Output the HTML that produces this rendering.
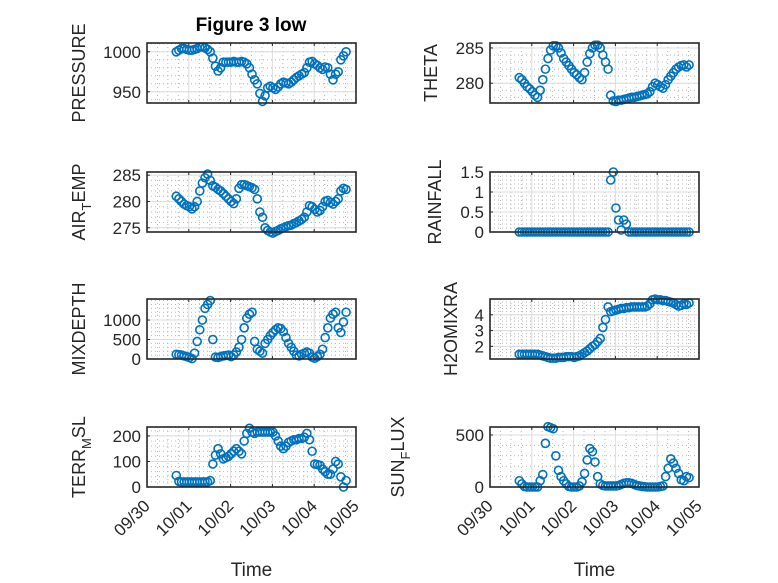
<!DOCTYPE html>
<html><head><meta charset="utf-8"><style>
html,body{margin:0;padding:0;background:#fff;}
svg{display:block;font-family:"Liberation Sans",sans-serif;}
</style></head><body>
<svg id="fig" width="778" height="583" viewBox="0 0 778 583">
<rect width="778" height="583" fill="#fff"/>
<text x="251" y="31" text-anchor="middle" font-weight="bold" font-size="19" fill="#000">Figure 3 low</text>
</svg>
<script>
// time = days since 09/30 00:00, sampled every 1.5 h starting 0.70
const tStart = 0.70;
const tStep = 1/16;
const xTickLabels = ["09/30","10/01","10/02","10/03","10/04","10/05"];
const pressure = [1000,1002,1004,1004,1003,1002,1002,1003,1004,1006,1006,1005,1003,1000,992,982,976,980,987,987,987,987,988,987,987,988,987,985,980,972,965,960,948,938,945,955,957,955,953,956,960,962,961,960,962,965,968,970,972,974,980,987,988,985,983,980,978,981,980,972,965,972,975,990,995,1000];
const airTemp = [281,280.5,280,279.5,279.2,279,278.6,279,280,282,283.5,284.5,285.2,284,283,282.7,282.3,282,281.5,281,280.5,280,279.6,280.5,282.5,283.2,283.2,283,282.8,282.6,282.3,280.5,278,277,275,274.5,274.2,274,274.3,274.5,274.8,275,275.2,275.4,275.5,275.8,276,276.3,276.6,277,278,279.2,279,278.5,278,278.3,279,280,280.2,279.8,279.5,280,280.5,282,282.5,282.3];
const mixDepth = [120,110,100,80,60,40,10,150,450,750,1000,1300,1400,1500,500,50,40,60,80,90,100,60,100,180,300,500,800,1050,1150,1200,450,250,200,150,400,500,600,680,750,800,780,700,550,400,300,200,100,80,120,150,180,150,50,20,60,120,250,550,800,1050,1150,1200,800,680,950,1200];
const terrMsl = [45,22,20,20,20,20,20,20,20,20,20,20,20,25,90,125,150,130,110,115,120,130,140,150,140,130,180,210,230,215,210,215,215,215,215,215,215,215,200,180,160,150,160,175,180,185,185,190,190,195,210,185,140,90,88,85,70,60,50,50,70,100,90,40,0,25];
const theta = [280.8,280.5,280,279.5,279.2,278.8,278.3,278,279,280.5,282,283.5,284.7,285.3,285.3,285,284.3,283.5,283,282.5,282,281.5,281.2,280.8,280.5,281.5,283,284.2,285,285.4,285.4,285,284,283,282,278.3,277.5,277.4,277.6,277.6,277.7,277.8,277.9,278,278,278.1,278.2,278.3,278.4,278.5,278.8,279.5,280,279.8,279.5,279.3,279.8,280.5,281,281.5,282,282.3,282.5,282.6,282.3,282.6];
const rainfall = [0,0,0,0,0,0,0,0,0,0,0,0,0,0,0,0,0,0,0,0,0,0,0,0,0,0,0,0,0,0,0,0,0,0,0,1.3,1.5,0.6,0.3,0.05,0.3,0.2,0,0,0,0,0,0,0,0,0,0,0,0,0,0,0,0,0,0,0,0,0,0,0,0];
const h2oMix = [1.5,1.5,1.5,1.5,1.5,1.5,1.5,1.5,1.45,1.4,1.35,1.3,1.25,1.25,1.25,1.3,1.3,1.3,1.35,1.35,1.35,1.3,1.35,1.4,1.5,1.6,1.7,1.85,2.0,2.1,2.3,2.5,3.2,3.7,4.5,4.2,4.25,4.3,4.35,4.4,4.4,4.45,4.45,4.5,4.5,4.5,4.5,4.5,4.5,4.55,4.7,4.95,5.0,4.95,4.95,4.9,4.9,4.85,4.8,4.75,4.65,4.55,4.6,4.7,4.65,4.75];
const sunFlux = [60,30,5,0,0,0,0,0,60,120,420,580,570,560,300,160,100,60,30,5,0,0,0,10,50,130,260,370,340,240,100,30,15,10,10,10,10,10,15,25,35,40,40,35,25,15,10,5,3,0,0,0,0,0,5,10,100,180,270,230,180,130,70,60,100,90];

const ticksPressure=[950,1000], ticksAir=[275,280,285], ticksMix=[0,500,1000], ticksTerr=[0,100,200];
const ticksTheta=[280,285], ticksRain=[0,0.5,1,1.5], ticksH2o=[2,3,4], ticksSun=[0,500];

const NS="http://www.w3.org/2000/svg";
const svg=document.getElementById('fig');
function el(tag,attrs,parent){const e=document.createElementNS(NS,tag);for(const k in attrs)e.setAttribute(k,attrs[k]);(parent||svg).appendChild(e);return e;}

const panels=[
 {name:'pressure',data:pressure,ticks:ticksPressure,lim:[936,1011],x:147,y:43,label:'PRESSURE',lx:78},
 {name:'theta',data:theta,ticks:ticksTheta,lim:[277.2,285.7],x:490,y:43,label:'THETA',lx:430},
 {name:'air-temp',data:airTemp,ticks:ticksAir,lim:[274.2,285.6],x:147,y:172,label:['AIR','T','EMP'],lx:78},
 {name:'rainfall',data:rainfall,ticks:ticksRain,lim:[0,1.5],x:490,y:172,label:'RAINFALL',lx:434},
 {name:'mixdepth',data:mixDepth,ticks:ticksMix,lim:[0,1540],x:147,y:299,label:'MIXDEPTH',lx:78},
 {name:'h2omixra',data:h2oMix,ticks:ticksH2o,lim:[1.2,5.0],x:490,y:299,label:'H2OMIXRA',lx:450},
 {name:'terr-msl',data:terrMsl,ticks:ticksTerr,lim:[0,235],x:147,y:427,label:['TERR','M','SL'],lx:78,bottom:true},
 {name:'sun-flux',data:sunFlux,ticks:ticksSun,lim:[0,577],x:490,y:427,label:['SUN','F','LUX'],lx:397,bottom:true},
];
const W=209,H=60;
panels.forEach(p=>{
  const g=el('g',{});
  
  
  const xs=d=>p.x+d/5*W;
  const ys=v=>p.y+H-(v-p.lim[0])/(p.lim[1]-p.lim[0])*H;
  for(let d=0;d<5;d+=0.25){ if(Math.abs(d-Math.round(d))<1e-6) continue;
    const l=el('line',{x1:xs(d),x2:xs(d),y1:p.y,y2:p.y+H,stroke:'#b8b8b8','stroke-width':1,'stroke-dasharray':'1 3'},g);
    
    
  }
  const step=p.ticks[1]-p.ticks[0];
  for(let v=p.ticks[0]-step;v<=p.lim[1]+1e-9;v+=step/5){
    if(v<p.lim[0]-1e-9) continue;
    const l=el('line',{x1:p.x,x2:p.x+W,y1:ys(v),y2:ys(v),stroke:'#b8b8b8','stroke-width':1,'stroke-dasharray':'1 3'},g);
    
    
  }
  for(let d=1;d<5;d++){
    const l=el('line',{x1:xs(d),x2:xs(d),y1:p.y,y2:p.y+H,stroke:'#dcdcdc','stroke-width':1},g);
    
    
  }
  p.ticks.forEach(v=>{
    const l=el('line',{x1:p.x,x2:p.x+W,y1:ys(v),y2:ys(v),stroke:'#dcdcdc','stroke-width':1},g);
    
    
    const tk=el('line',{x1:p.x,x2:p.x+3,y1:ys(v),y2:ys(v),stroke:'#262626','stroke-width':1},g);
    
    
    const t=el('text',{x:p.x-6,y:ys(v)+6,'text-anchor':'end','font-size':17,fill:'#262626'},g);
    t.textContent=String(v);
    
    
  });
  for(let d=0;d<=5;d++){
    const tk=el('line',{x1:xs(d),x2:xs(d),y1:p.y,y2:p.y+3,stroke:'#262626','stroke-width':1},g);
    
    
    const tk2=el('line',{x1:xs(d),x2:xs(d),y1:p.y+H,y2:p.y+H-3,stroke:'#262626','stroke-width':1},g);
    
    
    if(p.bottom){
      const tx=xs(d)+4, ty=p.y+H+20;
      const t=el('text',{x:tx,y:ty,'text-anchor':'end','font-size':17,fill:'#262626',transform:`rotate(-45 ${tx} ${ty})`},g);
      t.textContent=xTickLabels[d];
      
      
    }
  }
  p.data.forEach((v,i)=>{
    const c=el('circle',{cx:xs(tStart+i*tStep),cy:ys(v),r:4,fill:'none',stroke:'#0072bd','stroke-width':1.6},g);
    
    
  });
  const box=el('rect',{x:p.x,y:p.y,width:W,height:H,fill:'none',stroke:'#262626','stroke-width':1.6},g);
  
  
  const cy=p.y+H/2;
  const yl=el('text',{x:p.lx,y:cy+7,'text-anchor':'middle','font-size':18,fill:'#262626',transform:`rotate(-90 ${p.lx} ${cy})`},g);
  
  
  if(Array.isArray(p.label)){
    const a=el('tspan',{},yl);a.textContent=p.label[0];
    const b=el('tspan',{dy:6,'font-size':13},yl);b.textContent=p.label[1];
    const c=el('tspan',{dy:-6},yl);c.textContent=p.label[2];
  } else yl.textContent=p.label;
  if(p.bottom){
    const xl=el('text',{x:p.x+W/2,y:576,'text-anchor':'middle','font-size':19,fill:'#262626'},g);
    xl.textContent='Time';
    
    
  }
});
</script>
</body></html>
